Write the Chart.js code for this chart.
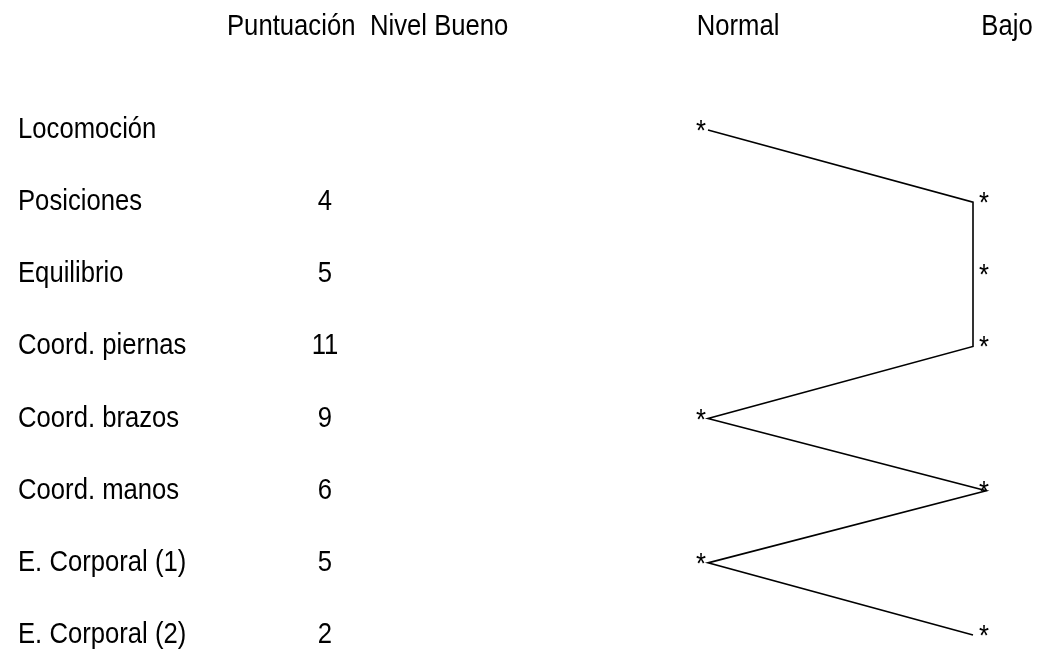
<!DOCTYPE html>
<html lang="es">
<head>
  <meta charset="UTF-8">
  <title>Perfil psicomotor</title>
  <script src="https://cdn.jsdelivr.net/npm/chart.js"></script>
  <style>
    html, body { margin: 0; padding: 0; background: #ffffff; }
    #wrap { width: 1037px; height: 669px; }
  </style>
</head>
<body>
  <div id="wrap"><canvas id="myCanvas" width="1037" height="669"></canvas></div>

<script>
  // datos del perfil
  const areas = ["Locomoción", "Posiciones", "Equilibrio", "Coord. piernas", "Coord. brazos", "Coord. manos", "E. Corporal (1)", "E. Corporal (2)"];
  const puntuacion = ["", "4", "5", "11", "9", "6", "5", "2"];
  // nivel: 0 = Bueno, 1 = Normal, 2 = Bajo
  const nivel = [1, 2, 2, 2, 1, 2.05, 1, 2];
  const columnas = ["Puntuación", "Nivel Bueno", "Normal", "Bajo"];

  const fuente = "29px 'Liberation Sans', Arial, sans-serif";
  const estrecho = 0.885;

  function texto(ctx, s, x, y, align) {
    ctx.save();
    ctx.translate(x, y);
    ctx.scale(estrecho, 1);
    ctx.textAlign = align;
    ctx.fillText(s, 0, 0);
    ctx.restore();
  }

  // dibuja cabecera, nombres, puntuaciones y asteriscos
  const textos = {
    id: "textos",
    afterDatasetsDraw(chart) {
      const ctx = chart.ctx;
      const xs = chart.scales.x;
      const ys = chart.scales.y;
      ctx.save();
      ctx.fillStyle = "#000";
      ctx.font = fuente;
      ctx.textBaseline = "middle";

      texto(ctx, columnas[0], 227, 27, "left");
      texto(ctx, columnas[1], 370, 27, "left");
      texto(ctx, columnas[2], xs.getPixelForValue(1) + 30, 27, "center");
      texto(ctx, columnas[3], xs.getPixelForValue(2) + 34, 27, "center");

      for (let i = 0; i < areas.length; i++) {
        const y = ys.getPixelForValue(i);
        texto(ctx, areas[i], 18, y, "left");
        texto(ctx, puntuacion[i], 325, y, "center");

        const n = Math.round(nivel[i]);
        const px = xs.getPixelForValue(n) + (n === 1 ? -7 : 11);
        texto(ctx, "*", px, y + 2, "center");
      }
      ctx.restore();
    }
  };

  const puntos = nivel.map((v, i) => ({ x: v, y: i }));

  const config = {
    type: "scatter",
    data: {
      datasets: [
        {
          label: "Perfil",
          data: puntos,
          showLine: true,
          borderColor: "#000",
          borderWidth: 1.6,
          pointRadius: 0,
          pointHoverRadius: 0,
          tension: 0,
          clip: false,
        },
      ],
    },
    options: {
      responsive: false,
      animation: false,
      layout: {
        padding: { left: 708, right: 64, top: 130, bottom: 34 },
      },
      scales: {
        x: { type: "linear", min: 1, max: 2, display: false },
        y: { type: "linear", min: 0, max: 7, reverse: true, display: false },
      },
      plugins: {
        legend: { display: false },
        tooltip: { enabled: false },
      },
    },
    plugins: [textos],
  };

  const myChart = new Chart(document.getElementById("myCanvas"), config);
</script>
</body>
</html>
